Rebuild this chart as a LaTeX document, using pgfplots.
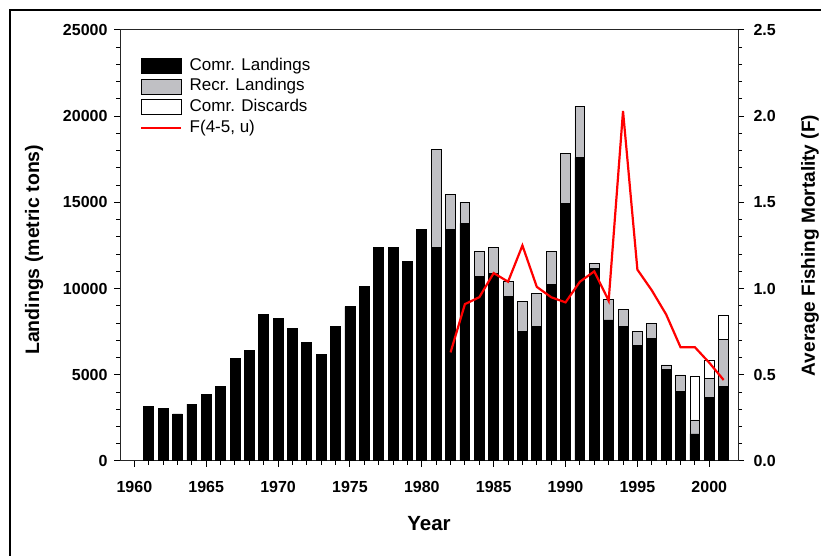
\documentclass[border=0pt]{standalone}
\usepackage{fontspec}
\setmainfont{Liberation Sans}
\usepackage{pgfplots}
\usepackage{pgfplotstable}
\pgfplotsset{compat=1.18}
\definecolor{recgray}{RGB}{192,192,196}

\pgfplotstableread{
year comm recr disc
1961 3190 0 0
1962 3070 0 0
1963 2730 0 0
1964 3300 0 0
1965 3880 0 0
1966 4340 0 0
1967 5950 0 0
1968 6410 0 0
1969 8480 0 0
1970 8250 0 0
1971 7680 0 0
1972 6870 0 0
1973 6180 0 0
1974 7800 0 0
1975 8950 0 0
1976 10100 0 0
1977 12400 0 0
1978 12400 0 0
1979 11600 0 0
1980 13440 0 0
1981 12400 5680 0
1982 13440 2040 0
1983 13790 1230 0
1984 10700 1440 0
1985 10900 1470 0
1986 9560 880 0
1987 7490 1770 0
1988 7800 1920 0
1989 10250 1890 0
1990 14940 2880 0
1991 17590 2980 0
1992 11150 300 0
1993 8180 1190 0
1994 7830 970 0
1995 6680 850 0
1996 7120 870 0
1997 5300 270 0
1998 4030 960 0
1999 1570 810 2500
2000 3670 1130 1040
2001 4340 2690 1440
}\landings

\pgfplotstableread{
year F
1982 0.63
1983 0.91
1984 0.95
1985 1.09
1986 1.04
1987 1.25
1988 1.01
1989 0.95
1990 0.92
1991 1.04
1992 1.10
1993 0.93
1994 2.03
1995 1.11
1996 0.99
1997 0.85
1998 0.66
1999 0.66
2000 0.57
2001 0.47
}\fdata

\begin{document}
\begin{tikzpicture}
\path[use as bounding box] (0pt,0pt) rectangle (821pt,556pt);
\draw[line width=2.5pt] (10pt,0pt) -- (10pt,546pt) -- (821pt,546pt);
\begin{axis}[
  at={(120pt,95pt)}, anchor=south west,
  scale only axis, width=618pt, height=431pt,
  xmin=1959, xmax=2002, ymin=0, ymax=25000,
  ybar stacked, bar width=0.69,
  axis line style={black!85, line width=1pt},
  xtick={1960,1965,...,2000}, minor x tick num=4,
  ytick={0,5000,...,25000}, minor y tick num=4,
  xtick pos=bottom, ytick pos=left, tick align=outside,
  major tick length=6pt, minor tick length=4pt,
  tick style={black, line width=1pt},
  scaled y ticks=false,
  /pgf/number format/1000 sep={},
  /pgf/number format/assume math mode=true,
  ticklabel style={font=\fontsize{16}{18}\selectfont\bfseries},
  xticklabel style={yshift=-11pt},
  yticklabel style={xshift=-3pt},
  xlabel={Year},
  xlabel style={at={(axis description cs:0.5,-0.144)}, anchor=center,
    font=\fontsize{20.5}{22}\selectfont\bfseries},
  ylabel={Landings (metric tons)},
  ylabel style={at={(axis description cs:-0.139,0.49)}, anchor=center,
    font=\fontsize{19.5}{22}\selectfont\bfseries},
  legend style={draw=none, fill=none, at={(0.0324,0.936)}, anchor=north west,
    font=\fontsize{17}{19}\selectfont, row sep=5pt, inner sep=0pt,
    nodes={inner sep=0pt, text height=12pt, text depth=3pt}},
  legend cell align=left,
]
\addplot[fill=black, draw=black, line width=0.8pt,
  legend image code/.code={\draw[fill=black,draw=black,line width=0.8pt] (0pt,-7.5pt) rectangle (40pt,7.5pt); \path (48pt,0pt);}]
  table[x=year, y=comm] {\landings};
\addlegendentry{Comr. Landings}
\addplot[fill=recgray, draw=black, line width=0.8pt,
  legend image code/.code={\draw[fill=recgray,draw=black,line width=0.8pt] (0pt,-7.5pt) rectangle (40pt,7.5pt); \path (48pt,0pt);}]
  table[x=year, y=recr] {\landings};
\addlegendentry{Recr. Landings}
\addplot[fill=white, draw=black, line width=0.8pt,
  legend image code/.code={\draw[fill=white,draw=black,line width=0.8pt] (0pt,-7.5pt) rectangle (40pt,7.5pt); \path (48pt,0pt);}]
  table[x=year, y=disc] {\landings};
\addlegendentry{Comr. Discards}
\addlegendimage{legend image code/.code={\draw[red,line width=2.2pt] (0pt,0pt) -- (40pt,0pt); \path (48pt,0pt);}}
\addlegendentry{F(4-5, u)}
\end{axis}
\begin{axis}[
  at={(120pt,95pt)}, anchor=south west,
  scale only axis, width=618pt, height=431pt,
  xmin=1959, xmax=2002, ymin=0, ymax=2.5,
  axis x line=none, axis y line*=right,
  axis line style={black!85, line width=1pt},
  ytick={0,0.5,...,2.5}, minor y tick num=4,
  tick align=outside,
  major tick length=6pt, minor tick length=4pt,
  tick style={black, line width=1pt},
  /pgf/number format/fixed, /pgf/number format/fixed zerofill,
  /pgf/number format/precision=1,
  /pgf/number format/assume math mode=true,
  ticklabel style={font=\fontsize{16}{18}\selectfont\bfseries},
  yticklabel style={xshift=6pt},
  ylabel={Average Fishing Mortality (F)},
  ylabel style={at={(axis description cs:1.1165,0.5)}, anchor=center,
    font=\fontsize{19}{21}\selectfont\bfseries},
]
\addplot[red, line width=2.2pt, mark=none] table[x=year, y=F] {\fdata};
\end{axis}
\end{tikzpicture}
\end{document}
